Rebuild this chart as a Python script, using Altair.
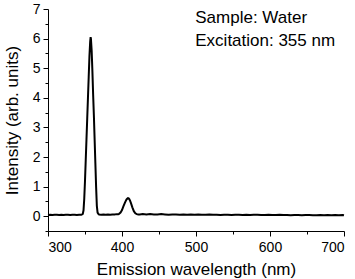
import altair as alt
import pandas as pd

# Emission spectrum of water, excitation at 355 nm
wavelength = [
    300, 303, 306, 309, 312, 315, 318, 321, 324, 327, 330, 333, 336, 339, 342, 345,
    346, 347, 348, 349, 350, 351, 352, 353, 354, 355, 356, 357, 357.6, 358, 359,
    360, 361, 362, 363, 364, 365, 366, 367, 368, 369,
    372, 375, 378, 381, 384, 387, 390, 393, 395,
    396, 398, 400, 402, 404, 406, 407, 408, 409, 410, 411, 412, 414, 416, 418, 420, 422, 424,
    428, 433, 438, 443, 448, 453, 458, 463, 468, 473, 478, 483, 488, 493, 498,
    503, 508, 513, 518, 523, 528, 533, 538, 543, 548, 553, 558, 563, 568, 573, 578,
    583, 588, 593, 598, 603, 608, 613, 618, 623, 628, 633, 638, 643, 648, 653, 658,
    663, 668, 673, 678, 683, 688, 693, 698, 700,
]
intensity = [
    0.04, 0.05, 0.04, 0.05, 0.05, 0.04, 0.05, 0.04, 0.05, 0.05, 0.04, 0.05, 0.05, 0.04, 0.05, 0.05,
    0.06, 0.08, 0.20, 0.60, 1.20, 1.90, 2.60, 3.30, 4.00, 4.70, 5.40, 5.90, 6.05, 6.00, 5.60,
    4.90, 4.10, 3.40, 2.60, 1.80, 1.00, 0.35, 0.12, 0.08, 0.06,
    0.05, 0.06, 0.05, 0.06, 0.05, 0.06, 0.06, 0.07, 0.07,
    0.08, 0.12, 0.21, 0.34, 0.46, 0.56, 0.59, 0.61, 0.60, 0.57, 0.52, 0.45, 0.30, 0.17, 0.10, 0.07, 0.06, 0.06,
    0.07, 0.06, 0.07, 0.06, 0.06, 0.07, 0.06, 0.05, 0.06, 0.06, 0.05, 0.06, 0.05, 0.06, 0.05,
    0.06, 0.05, 0.05, 0.06, 0.05, 0.05, 0.04, 0.05, 0.05, 0.04, 0.05, 0.05, 0.04, 0.05, 0.04, 0.05,
    0.05, 0.04, 0.04, 0.05, 0.04, 0.04, 0.05, 0.04, 0.04, 0.03, 0.04, 0.04, 0.03, 0.04, 0.04, 0.03,
    0.03, 0.04, 0.03, 0.04, 0.03, 0.04, 0.03, 0.04, 0.03,
]

x_major = [300, 400, 500, 600, 700]
x_minor = [350, 450, 550, 650]
y_major = [0, 1, 2, 3, 4, 5, 6, 7]
y_minor = [-0.5, 0.5, 1.5, 2.5, 3.5, 4.5, 5.5, 6.5]

note_x = [499, 499]
note_y = [6.53, 5.75]
note_text = ["Sample: Water", "Excitation: 355 nm"]

spectrum = pd.DataFrame({"wl": wavelength, "inten": intensity})
notes = pd.DataFrame({"wl": note_x, "inten": note_y, "label": note_text})

FONT = "Liberation Sans"
x_scale = alt.Scale(domain=[300, 700], nice=False, zero=False)
y_scale = alt.Scale(domain=[-0.5, 7], nice=False, zero=False)

line = alt.Chart(spectrum).mark_line(color="black", strokeWidth=2).encode(
    x=alt.X("wl:Q", scale=x_scale,
            axis=alt.Axis(orient="bottom", values=x_major, format="d",
                          title="Emission wavelength (nm)", titleFontSize=17,
                          titleFontWeight="normal", titlePadding=7,
                          labelFontSize=14, labelPadding=4, tickSize=5)),
    y=alt.Y("inten:Q", scale=y_scale,
            axis=alt.Axis(orient="left", values=y_major, format="d",
                          title="Intensity (arb. units)", titleFontSize=17,
                          titleFontWeight="normal", titlePadding=11,
                          labelFontSize=14, labelPadding=3, tickSize=5)),
)

# Text layer also carries the minor tick marks on both axes
text = alt.Chart(notes).mark_text(
    align="left", baseline="alphabetic", fontSize=17, font=FONT, color="black"
).encode(
    x=alt.X("wl:Q", scale=x_scale,
            axis=alt.Axis(orient="bottom", values=x_minor, labels=False,
                          title=None, tickSize=3, domain=False)),
    y=alt.Y("inten:Q", scale=y_scale,
            axis=alt.Axis(orient="left", values=y_minor, labels=False,
                          title=None, tickSize=3, domain=False)),
    text="label:N",
)

chart = (
    alt.layer(line, text)
    .resolve_axis(x="independent", y="independent")
    .properties(
        width=296,
        height=222,
        autosize=alt.AutoSizeParams(type="none"),
        padding={"left": 48, "top": 9, "right": 11, "bottom": 48},
        background="white",
    )
    .configure_view(stroke=None)
    .configure_axis(
        grid=False,
        domainColor="black",
        tickColor="black",
        labelColor="black",
        titleColor="black",
        labelFont=FONT,
        titleFont=FONT,
        domainWidth=1,
        tickWidth=1,
    )
)

chart.save("out.html", embed_options={"renderer": "svg", "actions": False})
